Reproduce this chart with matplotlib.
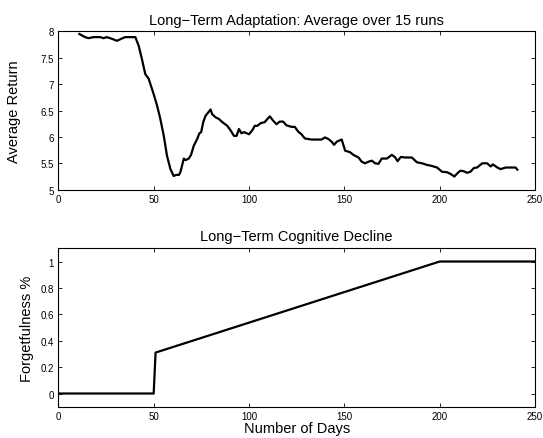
import numpy as np
import matplotlib.pyplot as plt
from matplotlib.ticker import FuncFormatter

# top panel: average return over days
days = [11, 14, 15.8, 18.4, 22, 23.7, 25.4, 28, 30.7, 32.5, 35, 40.4, 42.1, 43.8,
        45.6, 47.4, 50, 51.8, 53.5, 55.3, 57, 58.8, 60.5, 61.8, 63.2, 64, 65.8,
        66.7, 68.4, 69.6, 71, 72.8, 74, 74.9, 76, 77.2, 79, 79.8, 80.7, 82.5, 84.2,
        86, 88.6, 90.4, 92.1, 93.5, 94.7, 96, 97.4, 100, 101.8, 103, 104.4, 106.1,
        108.2, 110.9, 112.6, 114.4, 116.1, 117.9, 119.6, 122.3, 124, 125.8, 127.5,
        129.3, 131.1, 132.8, 135.4, 138.1, 139.8, 141.6, 143.3, 144.6, 146, 148.6,
        150.4, 153, 154.7, 157.4, 159.1, 160.9, 162.6, 164.4, 166.1, 167.9, 169.6,
        172.3, 174.9, 176.7, 177.9, 179.6, 181.9, 185.4, 188, 190.7, 193.3, 195.9,
        198.6, 201.2, 203.9, 205.6, 207.7, 209.5, 210.9, 212.6, 214.4, 216.1, 217.9,
        219.6, 222.3, 224.9, 226.7, 227.9, 230.2, 231.9, 234.6, 237.2, 239.8, 240.7]
avg_return = [7.95, 7.89, 7.87, 7.89, 7.89, 7.87, 7.89, 7.86, 7.82, 7.85, 7.89, 7.89,
              7.73, 7.48, 7.19, 7.10, 6.81, 6.59, 6.34, 6.02, 5.64, 5.39, 5.26, 5.28,
              5.28, 5.33, 5.59, 5.56, 5.59, 5.66, 5.83, 5.96, 6.07, 6.09, 6.28, 6.40,
              6.48, 6.52, 6.43, 6.37, 6.34, 6.28, 6.21, 6.12, 6.02, 6.02, 6.15, 6.07,
              6.09, 6.05, 6.13, 6.21, 6.21, 6.26, 6.28, 6.39, 6.31, 6.24, 6.29, 6.29,
              6.22, 6.19, 6.19, 6.10, 6.05, 5.97, 5.96, 5.95, 5.95, 5.95, 5.99, 5.96,
              5.91, 5.85, 5.91, 5.95, 5.74, 5.71, 5.66, 5.61, 5.53, 5.50, 5.53, 5.55,
              5.50, 5.49, 5.59, 5.59, 5.66, 5.61, 5.54, 5.62, 5.61, 5.61, 5.52, 5.50,
              5.47, 5.45, 5.42, 5.34, 5.33, 5.30, 5.25, 5.32, 5.36, 5.35, 5.32, 5.34,
              5.41, 5.42, 5.50, 5.50, 5.44, 5.48, 5.42, 5.39, 5.42, 5.42, 5.42, 5.38]

# bottom panel: forgetfulness schedule
decline_days = [0, 50, 51, 200, 250]
forgetfulness = [0, 0, 0.31, 1.0, 1.0]

plt.rcParams['font.family'] = ['Liberation Sans', 'DejaVu Sans']

fig = plt.figure(figsize=(5.43, 4.39), dpi=100)
ax1 = fig.add_axes([0.1074, 0.5656, 0.878, 0.3608])
ax2 = fig.add_axes([0.1074, 0.0713, 0.878, 0.3608])

lab_fs = 10.5

ax1.plot(days, avg_return, color='black', linewidth=1.6)
ax1.set_xlim(0, 250)
ax1.set_ylim(5, 8)
ax1.set_yticks(np.arange(5, 8.01, 0.5))
ax1.set_xticks([0, 50, 100, 150, 200, 250])
ax1.yaxis.set_major_formatter(FuncFormatter(lambda v, p: f"{v:g}"))
ax1.set_title("Long\u2212Term Adaptation: Average over 15 runs", fontsize=lab_fs, pad=5)
ax1.set_ylabel("Average Return", fontsize=lab_fs)
ax1.yaxis.set_label_coords(-0.078, 0.5)

ax2.plot(decline_days, forgetfulness, color='black', linewidth=1.6)
ax2.set_xlim(0, 250)
ax2.set_ylim(-0.1, 1.1)
ax2.set_yticks([0, 0.2, 0.4, 0.6, 0.8, 1])
ax2.set_xticks([0, 50, 100, 150, 200, 250])
ax2.yaxis.set_major_formatter(FuncFormatter(lambda v, p: f"{v:g}"))
ax2.set_title("Long\u2212Term Cognitive Decline", fontsize=lab_fs, pad=6)
ax2.set_ylabel("Forgetfulness %", fontsize=lab_fs)
ax2.yaxis.set_label_coords(-0.051, 0.5)
ax2.set_xlabel("Number of Days", fontsize=lab_fs, labelpad=0)

for ax in (ax1, ax2):
    ax.tick_params(direction='in', length=3, width=0.6, labelsize=7,
                   top=True, right=True, pad=3)
    for s in ax.spines.values():
        s.set_linewidth(0.8)

fig.savefig("out.png", dpi=100)
